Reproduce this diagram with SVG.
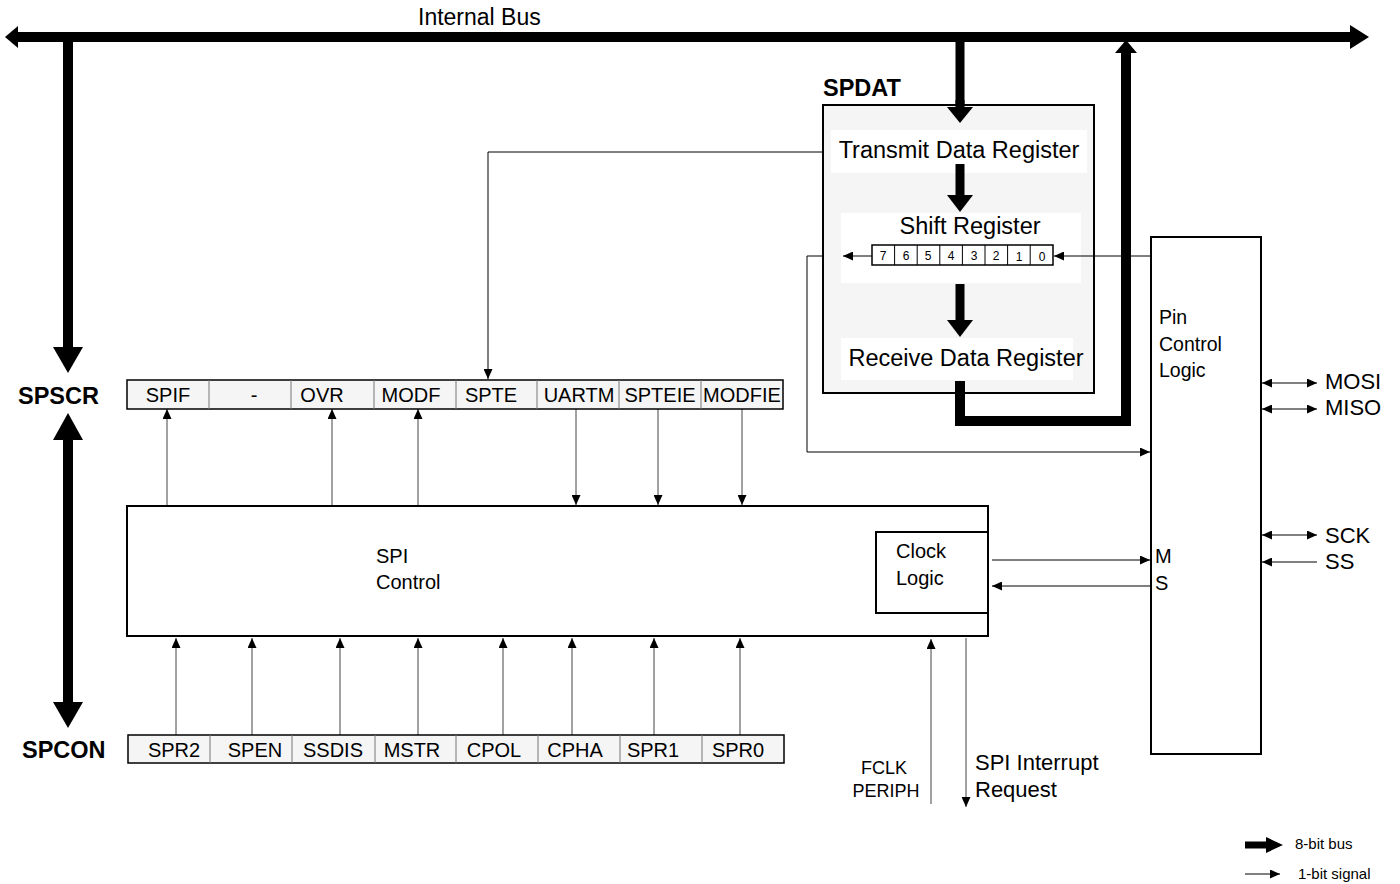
<svg xmlns="http://www.w3.org/2000/svg" width="1400" height="884" viewBox="0 0 1400 884">
<style>
text{font-family:"Liberation Sans",Arial,sans-serif;fill:#000}
.lbl{font-size:20px}
.cell{font-size:20px;text-anchor:middle}
.big{font-size:23.5px}
.bold{font-size:23.5px;font-weight:bold}
.thin{stroke:#000;stroke-width:1;fill:none}
.sig{stroke:#444;stroke-width:1;fill:none;marker-end:url(#ah)}
.bus{stroke:#000;stroke-width:10;fill:none}
.box{stroke:#000;stroke-width:2;fill:#fff}
.row{stroke:#000;stroke-width:1.5;fill:#f5f5f5}
.div{stroke:#777;stroke-width:1}
</style>
<defs>
<marker id="ah" markerUnits="userSpaceOnUse" markerWidth="10" markerHeight="9" refX="10" refY="4.5" orient="auto-start-reverse">
<path d="M0,0 L10,4.5 L0,9 z" fill="#000"/>
</marker>
</defs>
<rect width="1400" height="884" fill="#fff"/>

<g id="connectors">
<line class="bus" x1="17" y1="37" x2="1352" y2="37"/>
<polygon points="18,26 18,48 5,37" fill="#000"/>
<polygon points="1350,25 1350,49 1369,37" fill="#000"/>
<line class="bus" x1="68" y1="37" x2="68" y2="348"/>
<polygon points="53,347 83,347 68,373" fill="#000"/>
<line class="bus" x1="68" y1="439" x2="68" y2="703"/>
<polygon points="53,440 83,440 68,413" fill="#000"/>
<polygon points="53,702 83,702 68,728" fill="#000"/>
<line class="bus" x1="960" y1="37" x2="960" y2="108" style="stroke-width:9"/>
<path class="bus" d="M960,383 V421 H1126 V51" style="stroke-linejoin:miter"/>
<polygon points="1115,53 1137,53 1126,40" fill="#000"/>

<path class="thin" d="M823,152 H488 V379" style="marker-end:url(#ah)"/>
<path class="thin" d="M843,256 H807 V452 H1150" style="marker-end:url(#ah)"/>
<path class="thin" d="M1151,256 H1094"/>

<line class="sig" x1="167" y1="506" x2="167" y2="409"/>
<line class="sig" x1="332" y1="506" x2="332" y2="409"/>
<line class="sig" x1="418" y1="506" x2="418" y2="409"/>
<line class="sig" x1="576" y1="409" x2="576" y2="505"/>
<line class="sig" x1="658" y1="409" x2="658" y2="505"/>
<line class="sig" x1="742" y1="409" x2="742" y2="505"/>
<line class="sig" x1="176" y1="735" x2="176" y2="638"/>
<line class="sig" x1="252" y1="735" x2="252" y2="638"/>
<line class="sig" x1="340" y1="735" x2="340" y2="638"/>
<line class="sig" x1="418" y1="735" x2="418" y2="638"/>
<line class="sig" x1="503" y1="735" x2="503" y2="638"/>
<line class="sig" x1="572" y1="735" x2="572" y2="638"/>
<line class="sig" x1="654" y1="735" x2="654" y2="638"/>
<line class="sig" x1="740" y1="735" x2="740" y2="638"/>
<line class="sig" x1="931" y1="804" x2="931" y2="639"/>
<line class="sig" x1="966" y1="638" x2="966" y2="807"/>
<line class="thin" x1="992" y1="560" x2="1150" y2="560" style="marker-end:url(#ah)"/>
<line class="thin" x1="1150" y1="586" x2="992" y2="586" style="marker-end:url(#ah)"/>
<line class="thin" x1="1262" y1="383" x2="1317" y2="383" style="marker-start:url(#ah);marker-end:url(#ah)"/>
<line class="thin" x1="1262" y1="409" x2="1317" y2="409" style="marker-start:url(#ah);marker-end:url(#ah)"/>
<line class="thin" x1="1262" y1="535" x2="1317" y2="535" style="marker-start:url(#ah);marker-end:url(#ah)"/>
<line class="thin" x1="1317" y1="562" x2="1262" y2="562" style="marker-end:url(#ah)"/>
</g>

<text x="418" y="25" style="font-size:23px">Internal Bus</text>

<g id="spdat">
<text class="bold" x="823" y="96">SPDAT</text>
<rect x="823" y="105" width="271" height="288" fill="#f5f5f5" stroke="#000" stroke-width="2"/>
<rect x="831" y="130" width="256" height="43" fill="#fff"/>
<text class="big" x="959" y="158" text-anchor="middle">Transmit Data Register</text>
<rect x="841" y="213" width="240" height="70" fill="#fff"/>
<text class="big" x="970" y="234" text-anchor="middle">Shift Register</text>
<rect x="841" y="338" width="232" height="42" fill="#fff"/>
<text class="big" x="966" y="366" text-anchor="middle">Receive Data Register</text>
</g>
<g id="spdat-arrows">
<line class="bus" x1="960" y1="100" x2="960" y2="108" style="stroke-width:9"/>
<polygon points="947,107 973,107 960,123" fill="#000"/>
<line class="bus" x1="960" y1="164" x2="960" y2="196" style="stroke-width:9"/>
<polygon points="947,195 973,195 960,212" fill="#000"/>
<line class="bus" x1="960" y1="284" x2="960" y2="321" style="stroke-width:9"/>
<polygon points="947,320 973,320 960,337" fill="#000"/>
<line class="bus" x1="960" y1="381" x2="960" y2="400"/>
<path class="thin" d="M872,256 H843" style="marker-end:url(#ah)"/>
<path class="thin" d="M1094,256 H1054" style="marker-end:url(#ah)"/>
</g>

<g id="shift-bits">
<rect x="872" y="245" width="181" height="20" fill="#fff" stroke="#000" stroke-width="1.5"/>
<g class="thin">
<line x1="894.6" y1="245" x2="894.6" y2="265"/>
<line x1="917.2" y1="245" x2="917.2" y2="265"/>
<line x1="939.8" y1="245" x2="939.8" y2="265"/>
<line x1="962.4" y1="245" x2="962.4" y2="265"/>
<line x1="985" y1="245" x2="985" y2="265"/>
<line x1="1007.6" y1="245" x2="1007.6" y2="265"/>
<line x1="1030.2" y1="245" x2="1030.2" y2="265"/>
</g>
<g text-anchor="middle" style="font-size:12px">
<text x="883" y="260">7</text>
<text x="906" y="260">6</text>
<text x="928" y="260">5</text>
<text x="951" y="260">4</text>
<text x="974" y="260">3</text>
<text x="996" y="260">2</text>
<text x="1019" y="261">1</text>
<text x="1042" y="261">0</text>
</g>
</g>

<g id="spscr">
<text class="bold" x="18" y="404">SPSCR</text>
<rect class="row" x="127" y="380" width="656" height="29"/>
<line class="div" x1="209" y1="380" x2="209" y2="409"/>
<line class="div" x1="291" y1="380" x2="291" y2="409"/>
<line class="div" x1="374" y1="380" x2="374" y2="409"/>
<line class="div" x1="456" y1="380" x2="456" y2="409"/>
<line class="div" x1="537" y1="380" x2="537" y2="409"/>
<line class="div" x1="619" y1="380" x2="619" y2="409"/>
<line class="div" x1="701" y1="380" x2="701" y2="409"/>
<text class="cell" x="168" y="402">SPIF</text>
<text class="cell" x="254" y="402">-</text>
<text class="cell" x="322" y="402">OVR</text>
<text class="cell" x="411" y="402">MODF</text>
<text class="cell" x="491" y="402">SPTE</text>
<text class="cell" x="579" y="402">UARTM</text>
<text class="cell" x="660" y="402">SPTEIE</text>
<text class="cell" x="742" y="402">MODFIE</text>
</g>

<g id="spcon">
<text class="bold" x="22" y="758">SPCON</text>
<rect class="row" x="128" y="735" width="656" height="28"/>
<line class="div" x1="210" y1="735" x2="210" y2="763"/>
<line class="div" x1="292" y1="735" x2="292" y2="763"/>
<line class="div" x1="375" y1="735" x2="375" y2="763"/>
<line class="div" x1="456" y1="735" x2="456" y2="763"/>
<line class="div" x1="538" y1="735" x2="538" y2="763"/>
<line class="div" x1="620" y1="735" x2="620" y2="763"/>
<line class="div" x1="702" y1="735" x2="702" y2="763"/>
<text class="cell" x="174" y="757">SPR2</text>
<text class="cell" x="255" y="757">SPEN</text>
<text class="cell" x="333" y="757">SSDIS</text>
<text class="cell" x="412" y="757">MSTR</text>
<text class="cell" x="494" y="757">CPOL</text>
<text class="cell" x="575" y="757">CPHA</text>
<text class="cell" x="653" y="757">SPR1</text>
<text class="cell" x="738" y="757">SPR0</text>
</g>

<g id="spi-control">
<rect class="box" x="127" y="506" width="861" height="130"/>
<text class="lbl" x="376" y="563">SPI</text>
<text class="lbl" x="376" y="589">Control</text>
</g>

<g id="clock-logic">
<rect class="box" x="876" y="532" width="112" height="81"/>
<text class="lbl" x="896" y="558">Clock</text>
<text class="lbl" x="896" y="585">Logic</text>
</g>

<g id="pin-control">
<rect x="1151" y="237" width="110" height="517" fill="none" stroke="#000" stroke-width="2"/>
<text x="1159" y="324" style="font-size:19.5px">Pin</text>
<text x="1159" y="351" style="font-size:19.5px">Control</text>
<text x="1159" y="377" style="font-size:19.5px">Logic</text>
<text class="lbl" x="1155" y="563">M</text>
<text class="lbl" x="1155" y="590">S</text>
</g>

<g id="pins">
<text x="1325" y="389" style="font-size:22px">MOSI</text>
<text x="1325" y="415" style="font-size:22px">MISO</text>
<text x="1325" y="543" style="font-size:22px">SCK</text>
<text x="1325" y="569" style="font-size:22px">SS</text>
</g>

<g id="fclk">
<text x="884" y="774" text-anchor="middle" style="font-size:18px">FCLK</text>
<text x="886" y="797" text-anchor="middle" style="font-size:18px">PERIPH</text>
</g>
<g id="interrupt">
<text x="975" y="770" style="font-size:22px">SPI Interrupt</text>
<text x="975" y="797" style="font-size:22px">Request</text>
</g>

<g id="legend">
<line x1="1245" y1="845" x2="1268" y2="845" stroke="#000" stroke-width="7"/>
<polygon points="1266,837 1266,853 1283,845" fill="#000"/>
<text x="1295" y="849" style="font-size:15px">8-bit bus</text>
<line class="thin" x1="1245" y1="874" x2="1280" y2="874" style="marker-end:url(#ah)"/>
<text x="1298" y="879" style="font-size:15px">1-bit signal</text>
</g>
</svg>
